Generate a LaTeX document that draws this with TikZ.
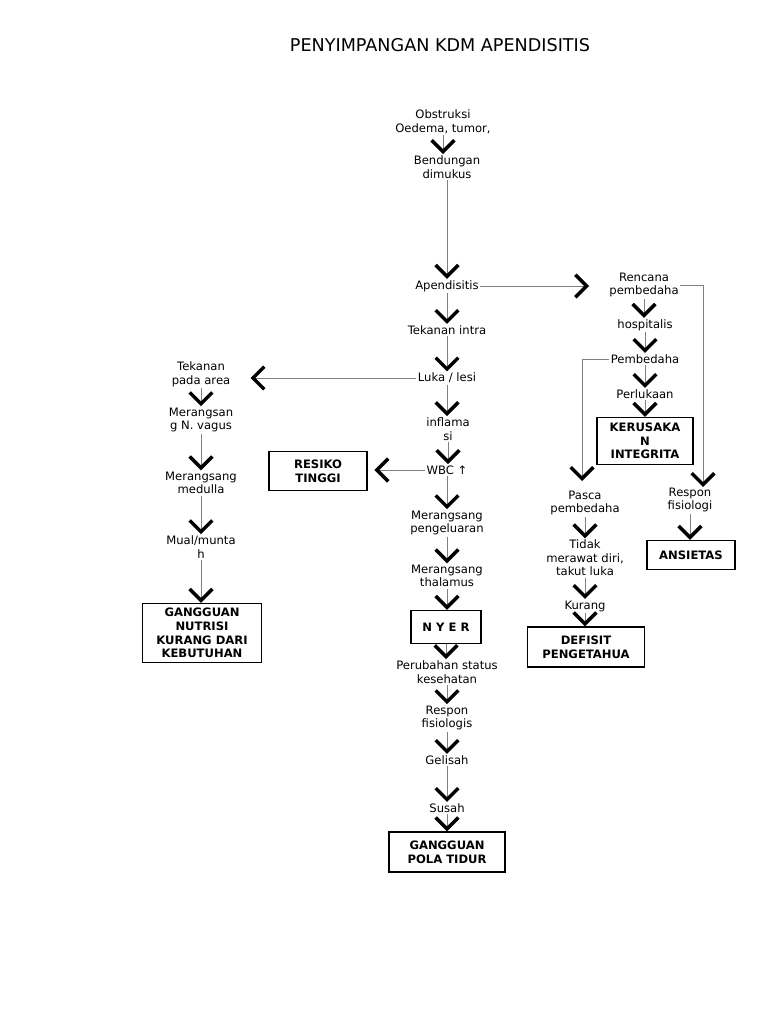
\documentclass[tikz,border=0pt]{standalone}
\usepackage{fontspec}
\setmainfont{DejaVu Sans}
\usetikzlibrary{arrows.meta}
\tikzset{
    txt/.style={align=center,inner sep=1pt,font=\fontsize{8.7}{10.2}\selectfont},
    kotak/.style={draw,line width=1.1pt,align=center,inner sep=1pt,font=\fontsize{8.7}{10.2}\selectfont\bfseries},
    panah/.style={draw=gray,line width=0.6pt,-{Straight Barb[length=8.5pt,width=17pt,line width=2.6pt,color=black]}}
}
\begin{document}
\begin{tikzpicture}[x=0.75pt,y=-0.75pt]
        \fill[white] (0,0) rectangle (768,1024);
        \useasboundingbox (0,0) rectangle (768,1024);
        \node[font=\fontsize{13.2}{15}\selectfont] (judul) at (440,45) {PENYIMPANGAN KDM APENDISITIS};

        \node[txt] (obs) at (443,122) {Obstruksi\\Oedema, tumor,};
        \node[txt] (bend) at (447,167) {Bendungan\\dimukus};
        \node[txt] (apen) at (447,286) {Apendisitis};
        \node[txt] (tek) at (447,330) {Tekanan intra};
        \node[txt] (luka) at (447,378) {Luka / lesi};
        \node[txt] (infl) at (448,429) {inflama\\si};
        \node[txt] (wbc) at (447,470) {WBC ↑};
        \node[txt] (mer1) at (447,523) {Merangsang\\pengeluaran};
        \node[txt] (mer2) at (447,576) {Merangsang\\thalamus};
        \node[kotak,minimum width=52.5pt,minimum height=24.75pt] (nyeri) at (446,627) {N Y E R};
        \node[txt] (perub) at (447,672) {Perubahan status\\kesehatan};
        \node[txt] (resp) at (447,718) {Respon\\fisiologis};
        \node[txt] (gel) at (447,760) {Gelisah};
        \node[txt] (susah) at (447,808) {Susah};
        \node[kotak,minimum width=87pt,minimum height=30pt] (gpt) at (447,852) {GANGGUAN\\POLA TIDUR};

        \node[txt] (tkn) at (201,374) {Tekanan\\pada area};
        \node[txt] (mvag) at (201,420) {Merangsan\\g N. vagus};
        \node[txt] (mmed) at (201,483) {Merangsang\\medulla};
        \node[txt] (mual) at (201,547) {Mual/munta\\h};
        \node[kotak,minimum width=89.25pt,minimum height=44.25pt] (gnk) at (202,633) {GANGGUAN\\NUTRISI\\KURANG DARI\\KEBUTUHAN};
        \node[kotak,minimum width=73.5pt,minimum height=29.25pt] (resiko) at (318,471) {RESIKO\\TINGGI};

        \node[txt] (renc) at (644,285) {Rencana\\pembedaha};
        \node[txt] (hosp) at (645,325) {hospitalis};
        \node[txt] (pemb) at (645,359) {Pembedaha};
        \node[txt] (perl) at (645,394) {Perlukaan};
        \node[kotak,minimum width=72pt,minimum height=35.25pt] (kerus) at (645,441) {KERUSAKA\\N\\INTEGRITA};
        \node[txt] (respf) at (690,500) {Respon\\fisiologi};
        \node[kotak,minimum width=66pt,minimum height=21.75pt] (ansi) at (691,555) {ANSIETAS};
        \node[txt] (pasca) at (585,503) {Pasca\\pembedaha};
        \node[txt] (tidak) at (585,558) {Tidak\\merawat diri,\\takut luka};
        \node[txt] (kur) at (585,606) {Kurang};
        \node[kotak,minimum width=87.75pt,minimum height=30pt] (defi) at (586,647) {DEFISIT\\PENGETAHUA};

        \coordinate (kanan) at (703,487);
        \coordinate (kiri) at (582,481);

        \foreach \a/\b in {obs/bend,bend/apen,apen/tek,tek/luka,luka/infl,infl/wbc,wbc/mer1,mer1/mer2,mer2/nyeri,nyeri/perub,perub/resp,resp/gel,gel/susah,susah/gpt,tkn/mvag,mvag/mmed,mmed/mual,mual/gnk,renc/hosp,hosp/pemb,pemb/perl,perl/kerus,respf/ansi,pasca/tidak,tidak/kur,kur/defi}
            \draw[panah] (\a.south) -- (\a.south |- \b.north);
        \draw[panah,shorten >=14] (apen.east) -- (apen.east -| renc.west);
        \draw[panah,shorten >=14] (luka.west) -- (luka.west -| tkn.east);
        \draw[panah,shorten >=5] (wbc.west) -- (wbc.west -| resiko.east);
        \draw[panah] (renc.east) -| (kanan);
        \draw[panah] (pemb.west) -| (kiri);
    \end{tikzpicture}
\end{document}
